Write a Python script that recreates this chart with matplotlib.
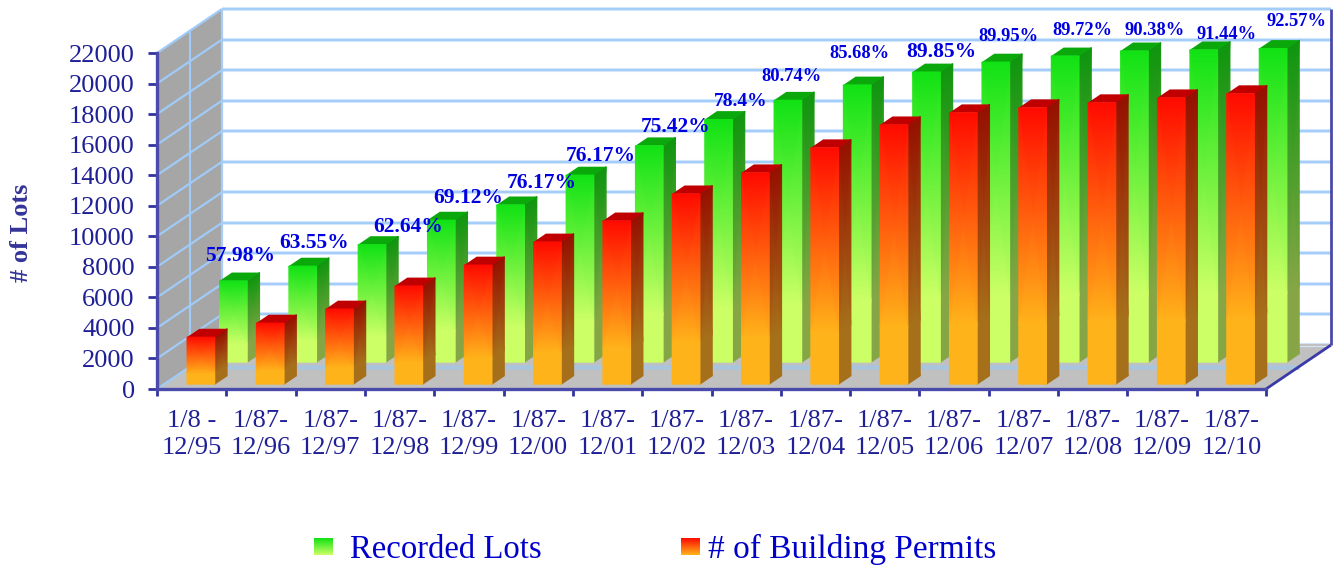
import numpy as np
import matplotlib
matplotlib.use("Agg")
import matplotlib.pyplot as plt
from matplotlib.colors import LinearSegmentedColormap
from matplotlib.patches import Polygon

categories = ["1/8 -\n12/95", "1/87-\n12/96", "1/87-\n12/97", "1/87-\n12/98",
              "1/87-\n12/99", "1/87-\n12/00", "1/87-\n12/01", "1/87-\n12/02",
              "1/87-\n12/03", "1/87-\n12/04", "1/87-\n12/05", "1/87-\n12/06",
              "1/87-\n12/07", "1/87-\n12/08", "1/87-\n12/09", "1/87-\n12/10"]
recorded_lots = [5320, 6290, 7700, 9300, 10300, 12250, 14170, 15890,
                 17150, 18150, 19000, 19650, 20050, 20380, 20450, 20540]
building_permits = [3080, 4000, 4920, 6430, 7800, 9310, 10690, 12460,
                    13840, 15480, 16980, 17770, 18100, 18430, 18750, 19020]
percent_labels = ["57.98%", "63.55%", "62.64%", "69.12%", "76.17%", "76.17%",
                  "75.42%", "78.4%", "80.74%", "85.68%", "89.85%", "89.95%",
                  "89.72%", "90.38%", "91.44%", "92.57%"]
y_ticks = list(range(0, 22001, 2000))

W, H = 1336, 567
LEFT, RIGHT, BOTTOM, TOP = 157, 1266, 389, 53   # pixels
fig = plt.figure(figsize=(W / 100, H / 100), dpi=100)
plt.rcParams['font.family'] = ['Liberation Serif', 'DejaVu Serif']
ax = fig.add_axes([LEFT / W, 1 - BOTTOM / H, (RIGHT - LEFT) / W, (BOTTOM - TOP) / H])
ax.patch.set_visible(False)

DEPTH_X = 65 / ((RIGHT - LEFT) / 16)
DEPTH_Y = 44 / ((BOTTOM - TOP) / 22000)


def proj(x, y, d):
    return x + d * DEPTH_X, y + d * DEPTH_Y


def wall(points, color):
    ax.add_patch(Polygon([proj(*p) for p in points], closed=True, fc=color, ec='none',
                         zorder=1, clip_on=False))


def seg(a, b, color, lw, z=2):
    (x0, y0), (x1, y1) = proj(*a), proj(*b)
    ax.plot([x0, x1], [y0, y1], color=color, lw=lw, zorder=z, clip_on=False,
            solid_capstyle='butt')


XMAX, YMAX = 16, 22000
wall([(0, 0, 0), (0, 0, 1), (0, YMAX, 1), (0, YMAX, 0)], '#a6a6a6')
wall([(0, 0, 0), (XMAX, 0, 0), (XMAX, 0, 1), (0, 0, 1)], '#c0c0c0')

for v in y_ticks:
    seg((0, v, 0), (0, v, 1), '#a0cbf8', 1.6)
    for lw, col in ((3.0, '#dcebfd'), (1.6, '#a4cdf9')):
        seg((0, v, 1), (XMAX, v, 1), col, lw)
seg((0, 0, 0.5), (0, YMAX, 0.5), '#a0cbf8', 1.5)
seg((0, 0, 1), (0, YMAX, 1), '#a8cdf5', 1.6)
wall([(0, 0, 0), (XMAX, 0, 0), (XMAX, 0, 0.42), (0, 0, 0.42)], '#c0c0c0')
seg((0, 0, 0.5), (XMAX, 0, 0.5), '#a9c4dd', 3.4)
seg((0, 0, 1), (XMAX, 0, 1), '#c0c0c0', 1.5)
seg((XMAX, 0, 0), (XMAX, 0, 1), '#3a3aa6', 2)
seg((XMAX, 0, 1), (XMAX, YMAX, 1), '#4a4aab', 2)

GRAD_END = 0.78  # share of the bar, from the top, at which the bottom colour is reached


def grad(corners, top, bottom, z):
    """corners: top-left, top-right, bottom-left, bottom-right in data coordinates."""
    cmap = LinearSegmentedColormap.from_list('g', [bottom, top])
    tl, tr, bl, br = [np.array(c, dtype=float) for c in corners]
    ml = tl + (bl - tl) * GRAD_END
    mr = tr + (br - tr) * GRAD_END
    X = np.array([[bl[0], br[0]], [ml[0], mr[0]], [tl[0], tr[0]]])
    Y = np.array([[bl[1], br[1]], [ml[1], mr[1]], [tl[1], tr[1]]])
    C = np.array([[0.0, 0.0], [0.0, 0.0], [1.0, 1.0]])
    ax.pcolormesh(X, Y, C, cmap=cmap, vmin=0, vmax=1, shading='gouraud',
                  zorder=z, clip_on=False)


BAR_L, BAR_R = 0.33, 0.73
BAR_DEPTH = 0.19


def bar3d(i, value, d, colors, z):
    x0, x1 = i + BAR_L, i + BAR_R
    d1 = d + BAR_DEPTH
    grad([proj(x1, value, d), proj(x1, value, d1), proj(x1, 0, d), proj(x1, 0, d1)],
         colors['side_top'], colors['side_bot'], z)
    ax.add_patch(Polygon([proj(x0, value, d), proj(x1, value, d), proj(x1, value, d1),
                          proj(x0, value, d1)], closed=True, fc=colors['cap'], ec='none',
                         zorder=z, clip_on=False))
    grad([proj(x0, value, d), proj(x1, value, d), proj(x0, 0, d), proj(x1, 0, d)],
         colors['top'], colors['bot'], z + 0.1)


GREEN = dict(top='#10e214', bot='#ccff66', side_top='#0f960f', side_bot='#86a646', cap='#0aa80a')
RED = dict(top='#ff0a00', bot='#ffb31a', side_top='#961000', side_bot='#a6701a', cap='#c00000')
GREEN_D, RED_D = 0.61, 0.11

for i, v in enumerate(recorded_lots):
    bar3d(i, v, GREEN_D, GREEN, 3)
for i, v in enumerate(building_permits):
    bar3d(i, v, RED_D, RED, 4)

label_dx = [7, 11, 36, 27, 31, 21, 26, 22, 4, 2, 15, 13, 17, 20, 23, 23]
label_dy = [25, 23, 18, 22, 22, 19, 19, 18, 24, 31, 20, 26, 25, 20, 15, 27]
label_size = [15.5, 15.5, 15.5, 15.5, 15.5, 15.5, 15.5, 14, 13.3, 13.3, 15.5, 13.3, 13.3, 13.3, 13.3, 13.3]
for i, (v, txt) in enumerate(zip(recorded_lots, percent_labels)):
    ax.annotate(txt, xy=proj(i + (BAR_L + BAR_R) / 2, v, GREEN_D),
                xytext=(label_dx[i], label_dy[i]), textcoords='offset pixels',
                ha='center', va='center', fontsize=label_size[i], fontweight='bold',
                color='#0000e0', zorder=8, annotation_clip=False)

ax.set_xlim(0, XMAX)
ax.set_ylim(0, YMAX)
ax.set_yticks(y_ticks)
ax.set_yticklabels([str(v) for v in y_ticks], fontsize=19, color='#1f1f96')
ax.tick_params(axis='y', length=6.5, width=2, color='#33339f', pad=9.5)
ax.set_xticks(range(XMAX + 1))
ax.set_xticklabels([])
ax.tick_params(axis='x', which='major', length=5, width=2, color='#33339f')
ax.set_xticks(np.arange(16) + 0.5, minor=True)
ax.set_xticklabels(categories, minor=True, fontsize=19, color='#1f1f96', linespacing=1.33)
ax.tick_params(axis='x', which='minor', length=0, pad=15)
for s in ('top', 'right'):
    ax.spines[s].set_visible(False)
for s in ('left', 'bottom'):
    ax.spines[s].set_color('#4a4aab')
    ax.spines[s].set_linewidth(2.4)
    ax.spines[s].set_zorder(6)

fig.text(22 / W, 1 - 233 / H, "# of Lots", rotation=90, ha='center', va='center',
         fontsize=19, fontweight='bold', color='#333399')


def swatch(x0, colors):
    sax = fig.add_axes([x0 / W, 1 - 555 / H, 19 / W, 17 / H])
    sax.axis('off')
    cmap = LinearSegmentedColormap.from_list('s', [colors['top'], colors['bot']])
    sax.imshow(np.linspace(0, 1, 64)[:, None], cmap=cmap, aspect='auto')


swatch(314, GREEN)
swatch(681, RED)
fig.text(350 / W, 1 - 558 / H, "Recorded Lots", ha='left', va='baseline', fontsize=23.6, color='#0000cc')
fig.text(708 / W, 1 - 558 / H, "# of Building Permits", ha='left', va='baseline', fontsize=24, color='#0000cc')

fig.savefig("out.png", dpi=100)
